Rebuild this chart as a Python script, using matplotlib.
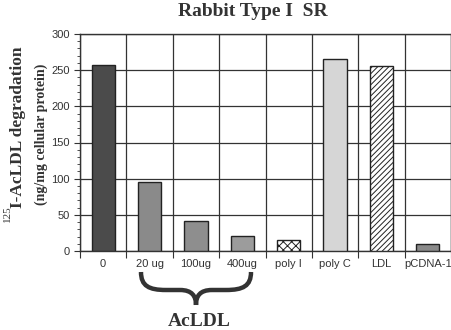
import matplotlib
matplotlib.use("Agg")
import matplotlib.pyplot as plt
from matplotlib.path import Path
from matplotlib.patches import PathPatch

# data
labels = ["0", "20 ug", "100ug", "400ug", "poly I", "poly C", "LDL", "pCDNA-1"]
values = [257, 95, 42, 21, 15, 266, 256, 9]
fills = ["#4b4b4b", "#8a8a8a", "#8e8e8e", "#9c9c9c", "white", "#d6d6d6", "white", "#8a8a8a"]
hatches = [None, None, None, None, "xxxx", None, "//////", None]

plt.rcParams["hatch.linewidth"] = 0.7
serif = ["Liberation Serif", "DejaVu Serif"]
sans = ["Liberation Sans", "DejaVu Sans"]

W, H = 451, 330
fig = plt.figure(figsize=(W / 100, H / 100), dpi=100)
ax = fig.add_axes([80 / W, 1 - 251 / H, 371 / W, 217 / H])

pos = [i + 0.5 for i in range(len(labels))]
for x, v, c, h in zip(pos, values, fills, hatches):
    ax.bar(x, v, width=0.5, color=c, edgecolor="#222222", linewidth=1.0, hatch=h, zorder=3)

ax.set_xlim(0, len(labels))
ax.set_ylim(0, 300)
ax.set_yticks(range(0, 301, 50))
ax.set_yticks(range(0, 301, 10), minor=True)
ax.set_xticks(range(0, len(labels) + 1))
ax.set_xticklabels([])
ax.set_xticks(pos, minor=True)
ax.set_xticklabels(labels, minor=True, fontfamily=sans, fontsize=8, color="#333333")
ax.tick_params(axis="x", which="major", direction="out", length=5, color="#333333")
ax.tick_params(axis="x", which="minor", length=0, pad=6)
ax.tick_params(axis="y", which="major", direction="out", length=4, color="#333333",
               labelsize=8, labelcolor="#333333")
ax.tick_params(axis="y", which="minor", direction="out", length=2, color="#333333")
for lab in ax.get_yticklabels():
    lab.set_fontfamily(sans)
ax.grid(True, which="major", color="#333333", linewidth=0.9, zorder=0)
for s in ax.spines.values():
    s.set_color("#333333")
    s.set_linewidth(1.0)

fig.text(253 / W, 1 - 11 / H, "Rabbit Type I  SR", ha="center", va="center",
         fontfamily=serif, fontweight="bold", fontsize=14, color="#333333")
fig.text(18 / W, 1 - 127 / H, "I-AcLDL degradation", rotation=90, ha="center", va="center",
         fontfamily=serif, fontweight="bold", fontsize=12.5, color="#333333")
fig.text(7 / W, 1 - 214 / H, "125", rotation=90, ha="center", va="center",
         fontfamily=serif, fontsize=8, color="#333333")
fig.text(41 / W, 1 - 134 / H, "(ng/mg cellular protein)", rotation=90, ha="center", va="center",
         fontfamily=serif, fontweight="bold", fontsize=10, color="#333333")

# curly brace under the AcLDL doses
def px(x, y):
    return (x / W, 1 - y / H)

L, R, M, top, mid, tip = 141, 251, 196, 272, 290, 305
verts = [px(L, top), px(L, 286), px(L + 8, mid), px(L + 25, mid), px(M - 16, mid),
         px(M - 4, mid), px(M, 296), px(M, tip),
         px(R, top), px(R, 286), px(R - 8, mid), px(R - 25, mid), px(M + 16, mid),
         px(M + 4, mid), px(M, 296), px(M, tip)]
codes = [Path.MOVETO, Path.CURVE4, Path.CURVE4, Path.CURVE4, Path.LINETO,
         Path.CURVE4, Path.CURVE4, Path.CURVE4] * 2
fig.add_artist(PathPatch(Path(verts, codes), transform=fig.transFigure, facecolor="none",
                         edgecolor="#333333", linewidth=3.2))
fig.text(199 / W, 1 - 322 / H, "AcLDL", ha="center", va="center",
         fontfamily=serif, fontweight="bold", fontsize=14, color="#333333")

fig.savefig("out.png", dpi=100)
